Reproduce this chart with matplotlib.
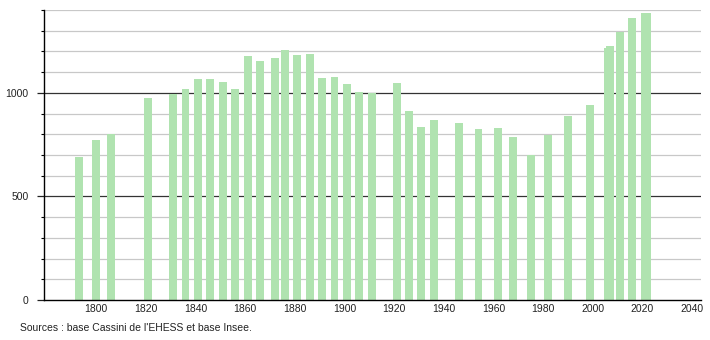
import numpy as np
import matplotlib
matplotlib.use("Agg")
import matplotlib.pyplot as plt
from matplotlib.ticker import MultipleLocator

plt.rcParams['font.family'] = ['Liberation Sans', 'DejaVu Sans']

# census years and population
years = [1793, 1800, 1806, 1821, 1831, 1836, 1841, 1846, 1851, 1856,
         1861, 1866, 1872, 1876, 1881, 1886, 1891, 1896, 1901, 1906,
         1911, 1921, 1926, 1931, 1936, 1946, 1954, 1962, 1968, 1975,
         1982, 1990, 1999, 2006, 2007, 2011, 2016, 2021, 2022]
population = [692, 773, 800, 975, 996, 1019, 1067, 1069, 1052, 1018,
              1178, 1154, 1167, 1207, 1183, 1188, 1070, 1077, 1041, 1006,
              1000, 1046, 913, 837, 869, 853, 826, 832, 789, 699,
              795, 888, 942, 1215, 1226, 1296, 1360, 1384, 1386]
x_ticks = list(range(1800, 2041, 20))
y_major = [0, 500, 1000]
source_text = "Sources : base Cassini de l'EHESS et base Insee."

fig = plt.figure(figsize=(7.1, 3.4), dpi=100)
ax = fig.add_axes([44 / 710, 40 / 340, 656.7 / 710, 290 / 340])

# grid lines (minor light, major dark)
for v in range(100, 1401, 100):
    if v % 500 == 0:
        ax.axhline(v, color='#333333', lw=0.9, zorder=1)
    else:
        ax.axhline(v, color='#c8c8c8', lw=0.9, zorder=1)

ax.bar(years, population, width=3.2, color='#b0e3b0', zorder=2)

ax.set_xlim(1779, 2043.5)
ax.set_ylim(0, 1400)

ax.set_xticks(x_ticks)
ax.set_xticklabels([str(t) for t in x_ticks])
ax.set_yticks(y_major)
ax.yaxis.set_minor_locator(MultipleLocator(100))
ax.tick_params(axis='x', length=0, pad=3, labelsize=7.5, colors='#222222')
ax.tick_params(axis='y', which='major', length=5, width=0.9, pad=6,
               labelsize=7.5, colors='#222222')
ax.tick_params(axis='y', which='minor', length=2.5, width=0.8)

for s in ['top', 'right']:
    ax.spines[s].set_visible(False)
ax.spines['left'].set_linewidth(1.0)
ax.spines['bottom'].set_linewidth(1.0)
ax.spines['left'].set_zorder(3)
ax.spines['bottom'].set_zorder(3)

fig.text(20 / 710, 12 / 340, source_text, fontsize=7.5, va='center',
         ha='left', color='#222222')

fig.savefig("out.png", dpi=100)
